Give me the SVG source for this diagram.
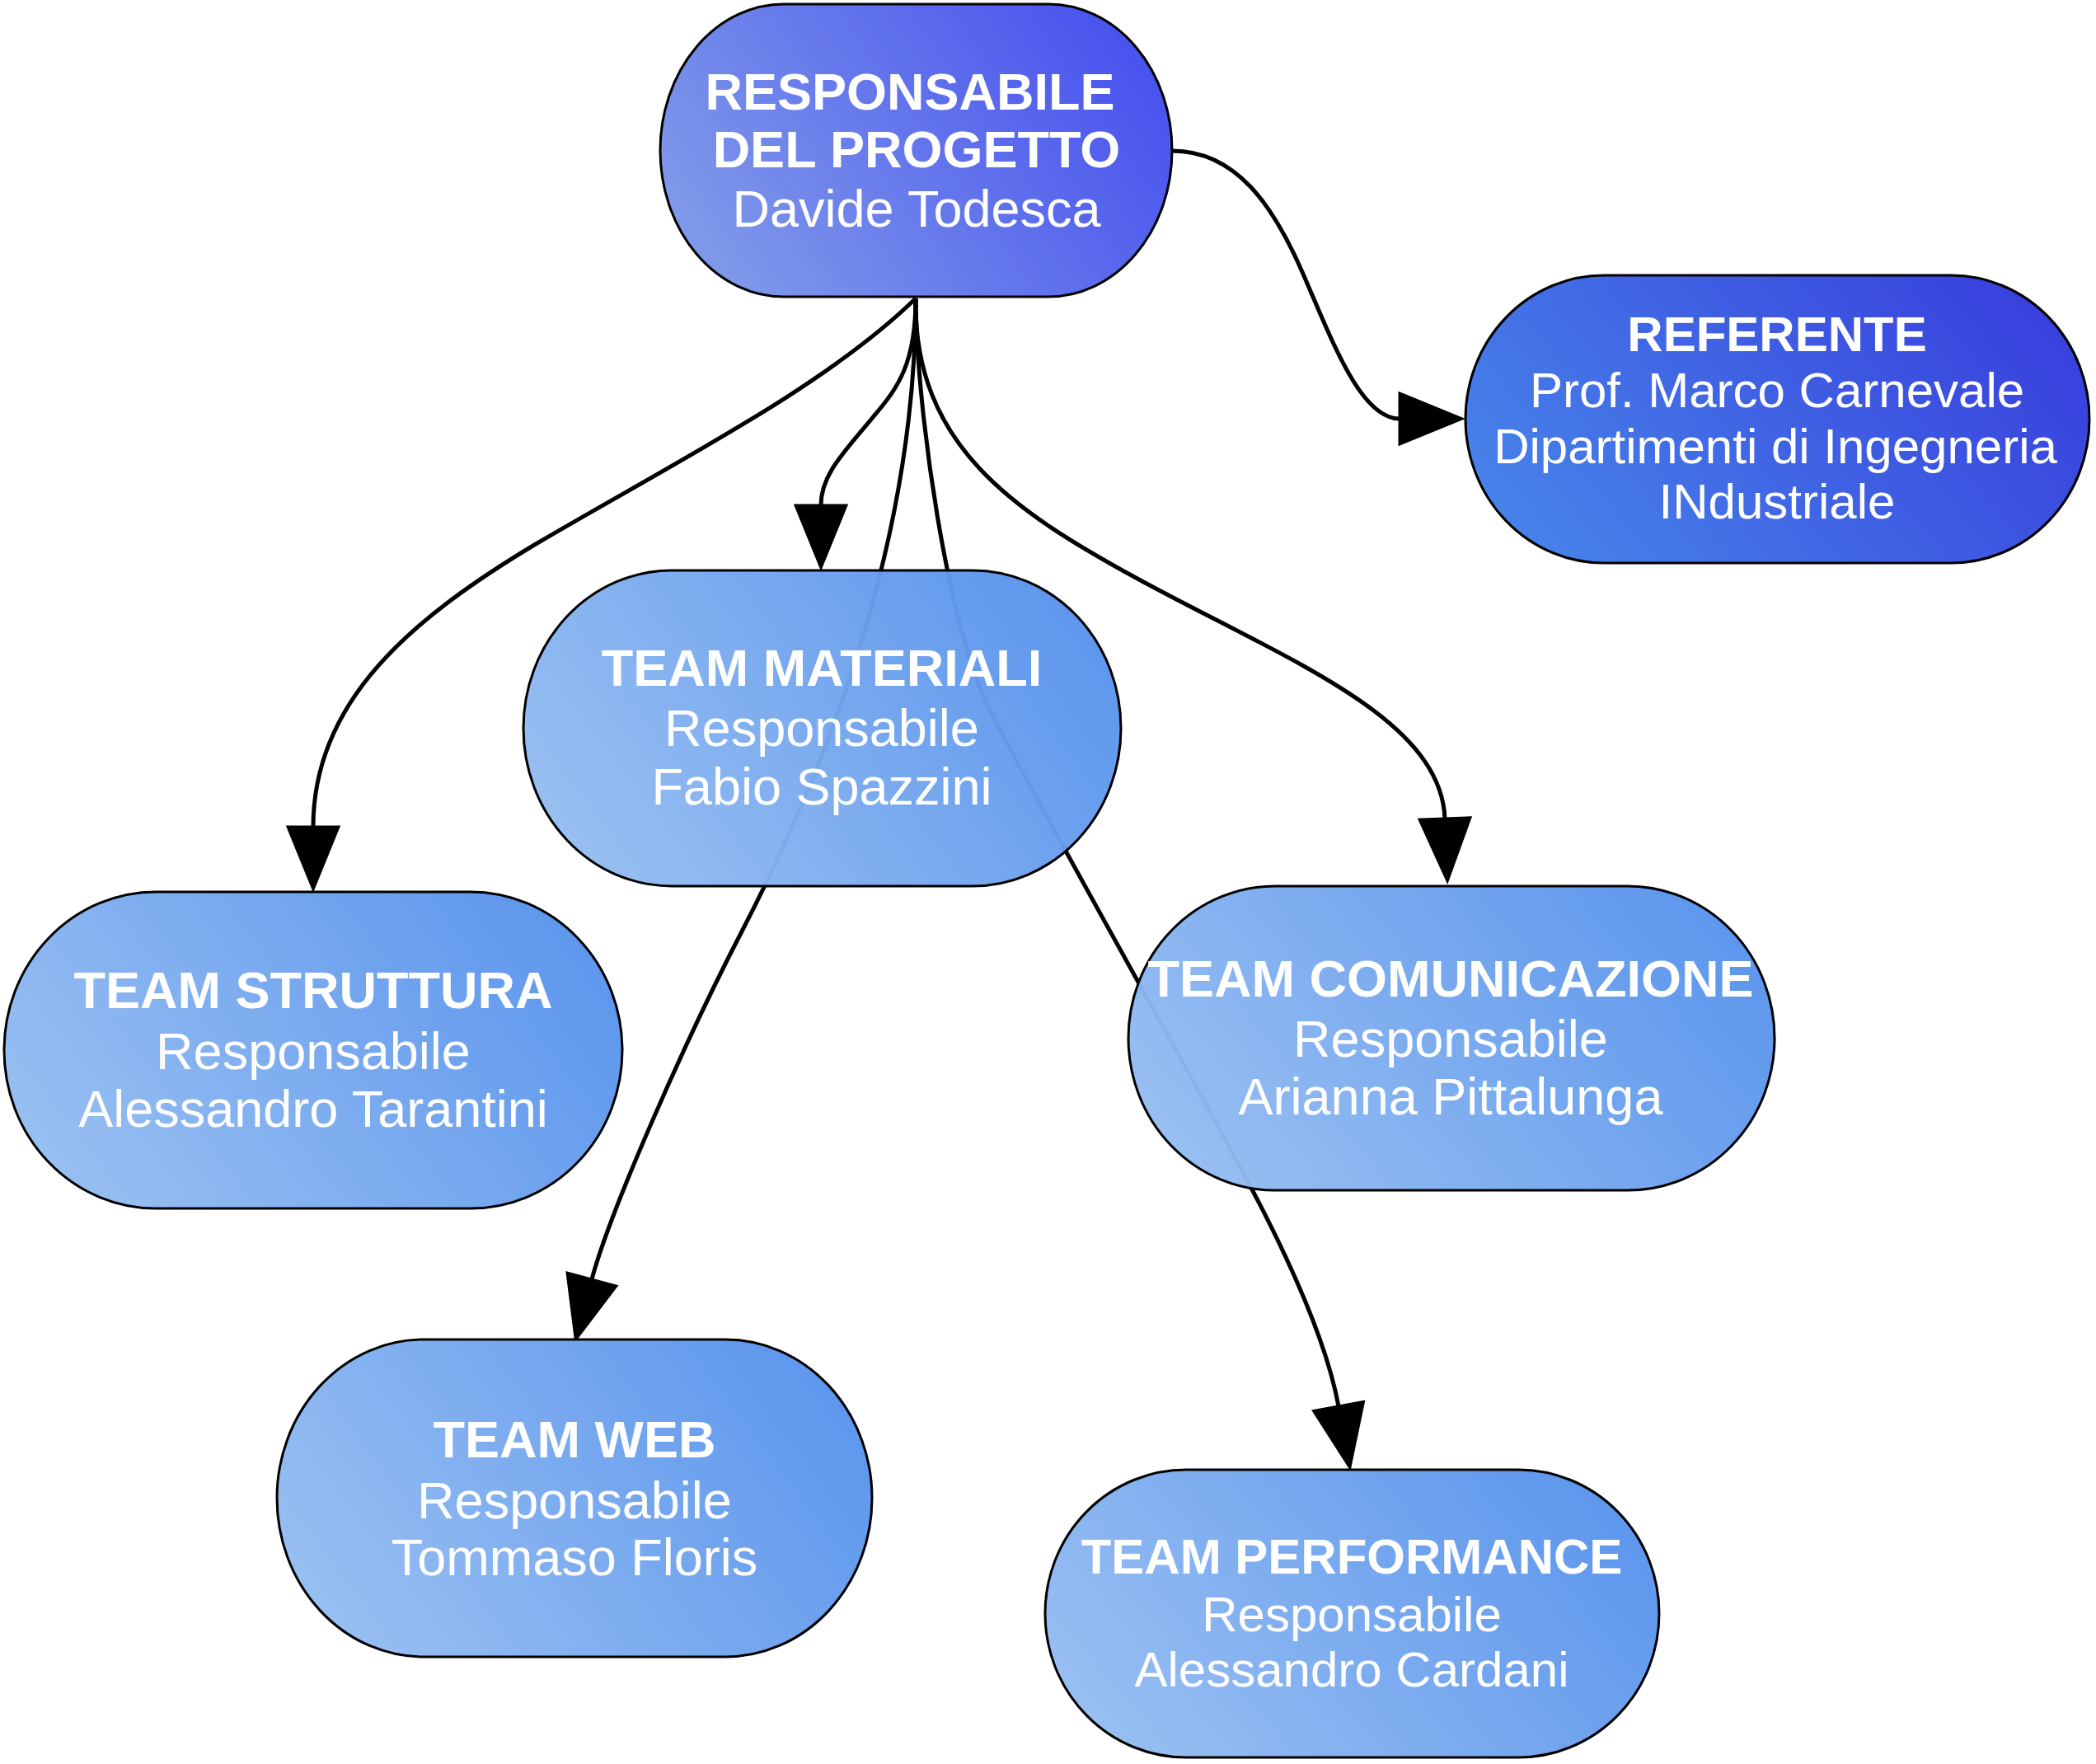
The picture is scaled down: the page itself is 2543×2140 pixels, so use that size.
<svg xmlns="http://www.w3.org/2000/svg" width="2543" height="2140" viewBox="0 0 2543 2140">
<style>
.edge{fill:none;stroke:#000;stroke-width:5;marker-end:url(#arrow)}
.node rect{stroke:#000;stroke-width:3}
.team rect{fill:url(#gTeam);fill-opacity:0.97}
text{font-family:"Liberation Sans",Arial,sans-serif;fill:#fff;text-anchor:middle}
.b{font-weight:bold}
.f63{font-size:63px}
.f60{font-size:60px}
</style>
<defs>
<linearGradient id="gTeam" x1="0" y1="0.7" x2="1" y2="0.3">
<stop offset="0" stop-color="#95bdf1"/>
<stop offset="1" stop-color="#5893ec"/>
</linearGradient>
<linearGradient id="gTop" x1="0" y1="0.7" x2="1" y2="0.3">
<stop offset="0" stop-color="#809ae9"/>
<stop offset="1" stop-color="#4852ee"/>
</linearGradient>
<linearGradient id="gRef" x1="0" y1="0.7" x2="1" y2="0.3">
<stop offset="0" stop-color="#4783e9"/>
<stop offset="1" stop-color="#3840dd"/>
</linearGradient>
<marker id="arrow" markerUnits="userSpaceOnUse" markerWidth="90" markerHeight="80" refX="0" refY="0" viewBox="-4 -40 90 80" orient="auto" overflow="visible">
<path d="M0,-31 L76,0 L0,31 Z" fill="#000" stroke="#000" stroke-width="3"/>
</marker>
</defs>
<g id="connectors">
<path id="e-web" class="edge" d="M1111,362 C1111,600 1040,860 900,1130 C830,1265 740,1470 718,1552"/>
<path id="e-performance" class="edge" d="M1111,362 C1112,500 1150,760 1200,860 C1250,960 1460,1330 1518,1441 C1565,1530 1610,1630 1624,1706"/>
<path id="e-struttura" class="edge" d="M1111,362 C1000,470 820,560 650,660 C500,750 380,850 380,1003"/>
<path id="e-materiali" class="edge" d="M1111,362 C1111,440 1090,470 1060,505 C1025,548 996,575 996,613"/>
<path id="e-comunicazione" class="edge" d="M1111,362 C1108,540 1230,620 1380,702 C1560,800 1748,870 1753,993"/>
<path id="e-referente" class="edge" d="M1422,183 C1500,183 1545,250 1580,330 C1615,410 1650,508 1698,508"/>
</g>
<g id="n-responsabile" class="node">
<rect x="801" y="5" width="621" height="355" rx="150" ry="177.5" fill="url(#gTop)"/>
<text class="b f63" x="1104" y="133">RESPONSABILE</text>
<text class="b f63" x="1112" y="203">DEL PROGETTO</text>
<text class="f63" x="1112" y="275">Davide Todesca</text>
</g>
<g id="n-referente" class="node">
<rect x="1778" y="334" width="757" height="349" rx="168" ry="174.5" fill="url(#gRef)"/>
<text class="b f60" x="2156" y="426">REFERENTE</text>
<text class="f60" x="2156" y="494">Prof. Marco Carnevale</text>
<text class="f60" x="2154" y="562">Dipartimenti di Ingegneria</text>
<text class="f60" x="2156" y="629">INdustriale</text>
</g>
<g id="n-materiali" class="node team">
<rect x="635" y="692" width="725" height="383" rx="180" ry="191.5"/>
<text class="b f63" x="997" y="832">TEAM MATERIALI</text>
<text class="f63" x="997" y="905">Responsabile</text>
<text class="f63" x="997" y="976">Fabio Spazzini</text>
</g>
<g id="n-struttura" class="node team">
<rect x="5" y="1082" width="750" height="384" rx="184" ry="192"/>
<text class="b f63" x="380" y="1223">TEAM STRUTTURA</text>
<text class="f63" x="380" y="1297">Responsabile</text>
<text class="f63" x="380" y="1367">Alessandro Tarantini</text>
</g>
<g id="n-comunicazione" class="node team">
<rect x="1369" y="1075" width="784" height="369" rx="178" ry="184.5"/>
<text class="b f63" x="1760" y="1209">TEAM COMUNICAZIONE</text>
<text class="f63" x="1760" y="1282">Responsabile</text>
<text class="f63" x="1760" y="1352">Arianna Pittalunga</text>
</g>
<g id="n-web" class="node team">
<rect x="336" y="1625" width="722" height="385" rx="178" ry="192.5"/>
<text class="b f63" x="697" y="1768">TEAM WEB</text>
<text class="f63" x="697" y="1842">Responsabile</text>
<text class="f63" x="697" y="1911">Tommaso Floris</text>
</g>
<g id="n-performance" class="node team">
<rect x="1268" y="1783" width="745" height="349" rx="171" ry="174.5"/>
<text class="b f60" x="1640" y="1909">TEAM PERFORMANCE</text>
<text class="f60" x="1640" y="1979">Responsabile</text>
<text class="f60" x="1640" y="2046">Alessandro Cardani</text>
</g>
</svg>
